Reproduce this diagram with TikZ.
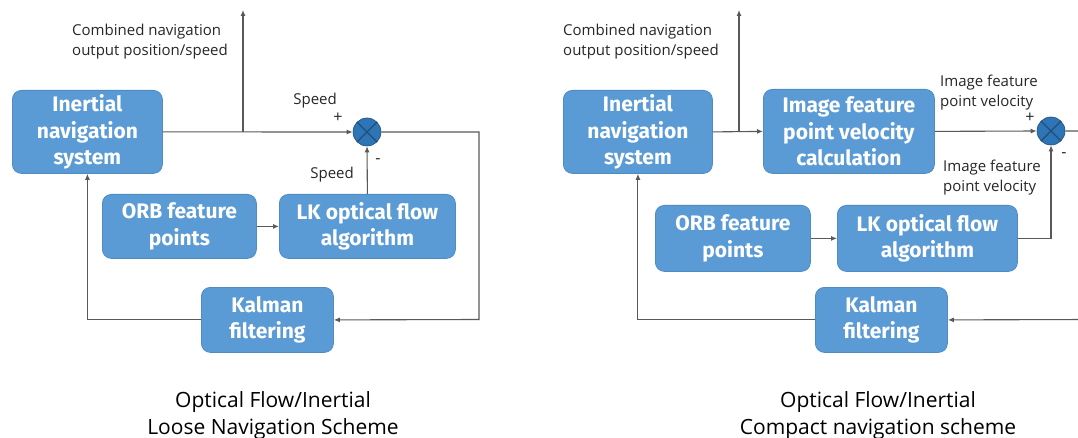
\documentclass[tikz,border=0pt]{standalone}
\usepackage{fontspec}
\setmainfont{Open Sans}
\newfontfamily\boxf{Fira Sans}
\usetikzlibrary{arrows.meta}
\definecolor{boxfill}{HTML}{5B9BD5}
\definecolor{boxedge}{HTML}{4F8CC4}
\definecolor{sumfill}{HTML}{2E75B6}
\definecolor{sumedge}{HTML}{1F4E79}
\definecolor{linec}{HTML}{595959}
\definecolor{txtc}{HTML}{262626}
\tikzset{
  blk/.style={draw=boxedge, line width=0.8pt, fill=boxfill, rounded corners=9pt,
    text=white, font=\fontsize{21}{26.5}\selectfont\boxf\bfseries, align=center,
    inner sep=0pt, anchor=north west},
  sumnode/.style={circle, draw=sumedge, line width=0.6pt, fill=sumfill,
    minimum size=28pt, inner sep=0pt,
    path picture={\draw[sumedge, line width=1.2pt]
      (path picture bounding box.south west) -- (path picture bounding box.north east)
      (path picture bounding box.north west) -- (path picture bounding box.south east);}},
  conn/.style={draw=linec, line width=1.1pt},
  arr/.style={conn, -{Latex[length=6pt,width=5pt]}},
  lbl/.style={text=txtc, font=\fontsize{15}{20}\selectfont, align=left, inner sep=0pt},
  sgn/.style={text=txtc, font=\fontsize{16}{16}\selectfont, inner sep=0pt},
  ttl/.style={text=black, font=\fontsize{21}{27}\selectfont, align=center, inner sep=0pt},
}
\begin{document}
\begin{tikzpicture}[x=1pt, y=-1pt]
\useasboundingbox (0,0) rectangle (1078,438);
% ---------- Left: loose scheme ----------
\node[blk, minimum width=150pt, minimum height=83pt] (ins1) at (12,90) {Inertial\\navigation\\system};
\node[sumnode] (sum1) at (367,132) {};
\node[blk, minimum width=154pt, minimum height=64pt] (orb1) at (102,194) {ORB feature\\points};
\node[blk, minimum width=176pt, minimum height=64pt] (lk1) at (279,194) {LK optical flow\\algorithm};
\node[blk, minimum width=132pt, minimum height=65pt] (kal1) at (201,287) {Kalman\\filtering};
\coordinate (br1) at (243,132);
\coordinate (out1) at (243,10);
\coordinate (rc1) at (479,319.5);
\node[lbl, anchor=north west] (lo1) at (72,24) {Combined navigation\\output position/speed};
\node[lbl, anchor=south east] (sp1) at (337,108) {Speed};
\node[sgn] (p1) at (338,118) {+};
\node[lbl, anchor=south east] (sp2) at (354,182) {Speed};
\node[sgn] (m1) at (378,161) {-};
\draw[arr] (ins1.east) -- (sum1.west);
\draw[arr] (br1) -- (out1);
\draw[arr] (orb1.east) -- (lk1.west);
\draw[arr] (lk1.north) -- (sum1.south);
\draw[arr] (sum1.east) -| (rc1) -- (kal1.east);
\draw[arr] (kal1.west) -| (ins1.south);
\node[ttl] (t1) at (273,416) {Optical Flow/Inertial\\Loose Navigation Scheme};
% ---------- Right: compact scheme ----------
\node[blk, minimum width=149pt, minimum height=83pt] (ins2) at (563,90) {Inertial\\navigation\\system};
\node[blk, minimum width=171pt, minimum height=84pt] (img2) at (763,89) {Image feature\\point velocity\\calculation};
\node[sumnode] (sum2) at (1051,131) {};
\node[blk, minimum width=155pt, minimum height=66pt] (orb2) at (655,205) {ORB feature\\points};
\node[blk, minimum width=180pt, minimum height=66pt] (lk2) at (837,205) {LK optical flow\\algorithm};
\node[blk, minimum width=132pt, minimum height=65pt] (kal2) at (815,287) {Kalman\\filtering};
\coordinate (br2) at (739,132);
\coordinate (out2) at (739,10);
\coordinate (rc2) at (1090,319.5);
\node[lbl, anchor=north west] (lo2) at (563,24) {Combined navigation\\output position/speed};
\node[lbl, anchor=north west] (iv1) at (940,75) {Image feature\\point velocity};
\node[sgn] (p2) at (1030,118) {+};
\node[lbl, anchor=north west] (iv2) at (943,160) {Image feature\\point velocity};
\node[sgn] (m2) at (1064,155) {-};
\draw[arr] (ins2.east) -- (img2.west);
\draw[arr] (br2) -- (out2);
\draw[arr] (img2.east) -- (sum2.west);
\draw[arr] (orb2.east) -- (lk2.west);
\draw[arr] (lk2.east) -| (sum2.south);
\draw[arr] (sum2.east) -| (rc2) -- (kal2.east);
\draw[arr] (kal2.west) -| (ins2.south);
\node[ttl] (t2) at (878,416) {Optical Flow/Inertial\\Compact navigation scheme};
\end{tikzpicture}
\end{document}
